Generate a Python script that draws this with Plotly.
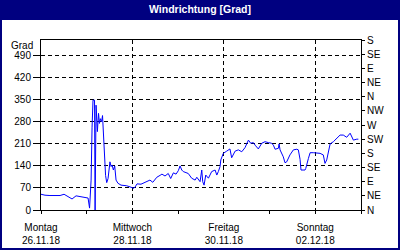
import pandas as pd
import plotly.graph_objects as go

# ---- data ----
start = "2018-11-26 00:00"
hours = [0, 2.1, 4.7, 7.4, 10.0, 12.1, 13.7, 16.3, 18.4, 20.5, 23.1, 24.7, 25.5, 26.0, 26.3,
         26.8, 27.3, 28.1, 28.4, 28.9, 29.6, 30.2, 30.7, 31.2, 31.8, 32.3, 32.7, 33.2, 33.9,
         34.5, 35.2, 36.2, 36.8, 37.3, 38.0, 38.7, 39.4, 40.4, 42.0, 45.0, 47.3, 48.8, 49.4,
         50.4, 52.5, 54.1, 56.2, 57.2, 58.7, 60.8, 62.5, 63.5, 65.1, 66.8, 68.1, 69.5, 70.9,
         72.1, 73.0, 73.9, 74.7, 77.3, 79.1, 80.9, 81.8, 83.5, 84.4, 84.9, 85.6, 86.5, 87.9,
         89.6, 91.4, 92.3, 93.1, 94.0, 94.4, 94.9, 95.7, 97.5, 99.2, 100.1, 101.9, 103.6,
         105.4, 107.1, 108.2, 108.9, 110.1, 111.5, 112.4, 114.1, 115.9, 117.6, 119.4, 121.1,
         122.0, 122.9, 124.6, 125.0, 125.5, 127.2, 128.1, 129.0, 130.7, 132.5, 134.3, 135.1,
         136.0, 136.5, 138.6, 139.0, 140.4, 141.3, 143.0, 144.8, 146.5, 148.2, 149.1, 150.0,
         151.8, 153.5, 157.0, 158.7, 160.5, 162.3, 164.0, 165.8, 166.6]
direction = [50, 47, 46, 45, 46, 50, 45, 35, 45, 43, 40, 38, 6, 60, 95,
             261, 349, 349, 0, 333, 249, 307, 275, 290, 280, 300, 254, 190, 110,
             87, 100, 153, 138, 143, 127, 140, 95, 85, 79, 77, 71, 69, 73,
             83, 82, 86, 90, 95, 88, 104, 110, 114, 108, 116, 100, 118, 114,
             125, 140, 127, 122, 116, 101, 95, 104, 90, 127, 90, 79, 111, 101,
             122, 127, 111, 122, 138, 159, 169, 180, 187, 194, 166, 187, 191,
             185, 198, 217, 222, 212, 214, 206, 194, 212, 217, 214, 212,
             206, 193, 196, 210, 191, 169, 150, 153, 175, 191, 193, 191,
             161, 127, 127, 132, 164, 182, 182, 182, 180, 175, 148, 159,
             210, 217, 238, 238, 231, 244, 222, 225, 225]

x_tick_dates = ["2018-11-26", "2018-11-28", "2018-11-30", "2018-12-02"]
x_tick_text = ["Montag<br>26.11.18", "Mittwoch<br>28.11.18", "Freitag<br>30.11.18", "Sonntag<br>02.12.18"]
x_range = ["2018-11-26", "2018-12-03"]

left_ticks = [0, 70, 140, 210, 280, 350, 420, 490]
right_ticks = [0, 45, 90, 135, 180, 225, 270, 315, 360, 405, 450, 495, 540]
right_text = ["N", "NE", "E", "SE", "S", "SW", "W", "NW", "N", "NE", "E", "SE", "S"]
y_range = [0, 540]

title = "Windrichtung [Grad]"
unit = "Grad"

# ---- figure ----
W, H = 400, 250
L, R, T, B = 41, 39, 40, 40
PW, PH = W - L - R, H - T - B


def px(x):
    return (x - L) / PW


def py(y):
    return (H - B - y) / PH


times = pd.Timestamp(start) + pd.to_timedelta(hours, unit="h")
NAVY = "#000080"
FONT = "Liberation Sans"

fig = go.Figure()
fig.add_trace(go.Scatter(x=times, y=direction, mode="lines",
                         line=dict(color="#0000FF", width=1), showlegend=False,
                         hoverinfo="skip"))
fig.add_trace(go.Scatter(x=times, y=direction, mode="lines", yaxis="y2",
                         line=dict(color="rgba(0,0,0,0)", width=0), showlegend=False,
                         hoverinfo="skip"))

fig.update_layout(
    width=W, height=H,
    margin=dict(l=L, r=R, t=T, b=B, pad=0),
    paper_bgcolor="white", plot_bgcolor="white",
    font=dict(family=FONT, size=10, color="black"),
    xaxis=dict(type="date", range=x_range, tickvals=x_tick_dates, ticktext=x_tick_text,
               showgrid=True, gridcolor="black", griddash="4px,3px", gridwidth=1,
               showline=True, linecolor="black", linewidth=1, mirror=True,
               ticks="outside", ticklen=3, tickcolor="black", ticklabelstandoff=5,
               minor=dict(dtick=86400000, ticks="outside", ticklen=3, tickcolor="black", showgrid=False),
               zeroline=False, fixedrange=True, tickangle=0, automargin=False),
    yaxis=dict(range=y_range, tickvals=left_ticks,
               showgrid=True, gridcolor="black", griddash="4px,3px", gridwidth=1,
               showline=True, linecolor="black", linewidth=1, mirror=True,
               ticks="outside", ticklen=7, tickcolor="black",
               zeroline=False, fixedrange=True, automargin=False),
    yaxis2=dict(range=y_range, overlaying="y", side="right", tickvals=right_ticks,
                ticktext=right_text, showgrid=False, showline=True, linecolor="black",
                linewidth=1, ticks="outside", ticklen=3, tickcolor="black",
                zeroline=False, fixedrange=True, automargin=False),
    shapes=[
        dict(type="rect", xref="paper", yref="paper", x0=px(0), x1=px(W), y0=py(20), y1=py(0),
             fillcolor=NAVY, line=dict(width=0), layer="above"),
        dict(type="rect", xref="paper", yref="paper", x0=px(1), x1=px(W - 1), y0=py(H - 1), y1=py(1),
             fillcolor="rgba(0,0,0,0)", line=dict(color=NAVY, width=2), layer="above"),
    ],
    annotations=[
        dict(text="<b>" + title + "</b>", xref="paper", yref="paper", x=px(W / 2), y=py(9),
             xanchor="center", yanchor="middle", showarrow=False,
             font=dict(family=FONT, size=10.5, color="white")),
        dict(text=unit, xref="paper", yref="paper", x=px(35), y=py(45),
             xanchor="right", yanchor="middle", showarrow=False,
             font=dict(family=FONT, size=10, color="black")),
    ],
)

fig.write_html("out.html")
